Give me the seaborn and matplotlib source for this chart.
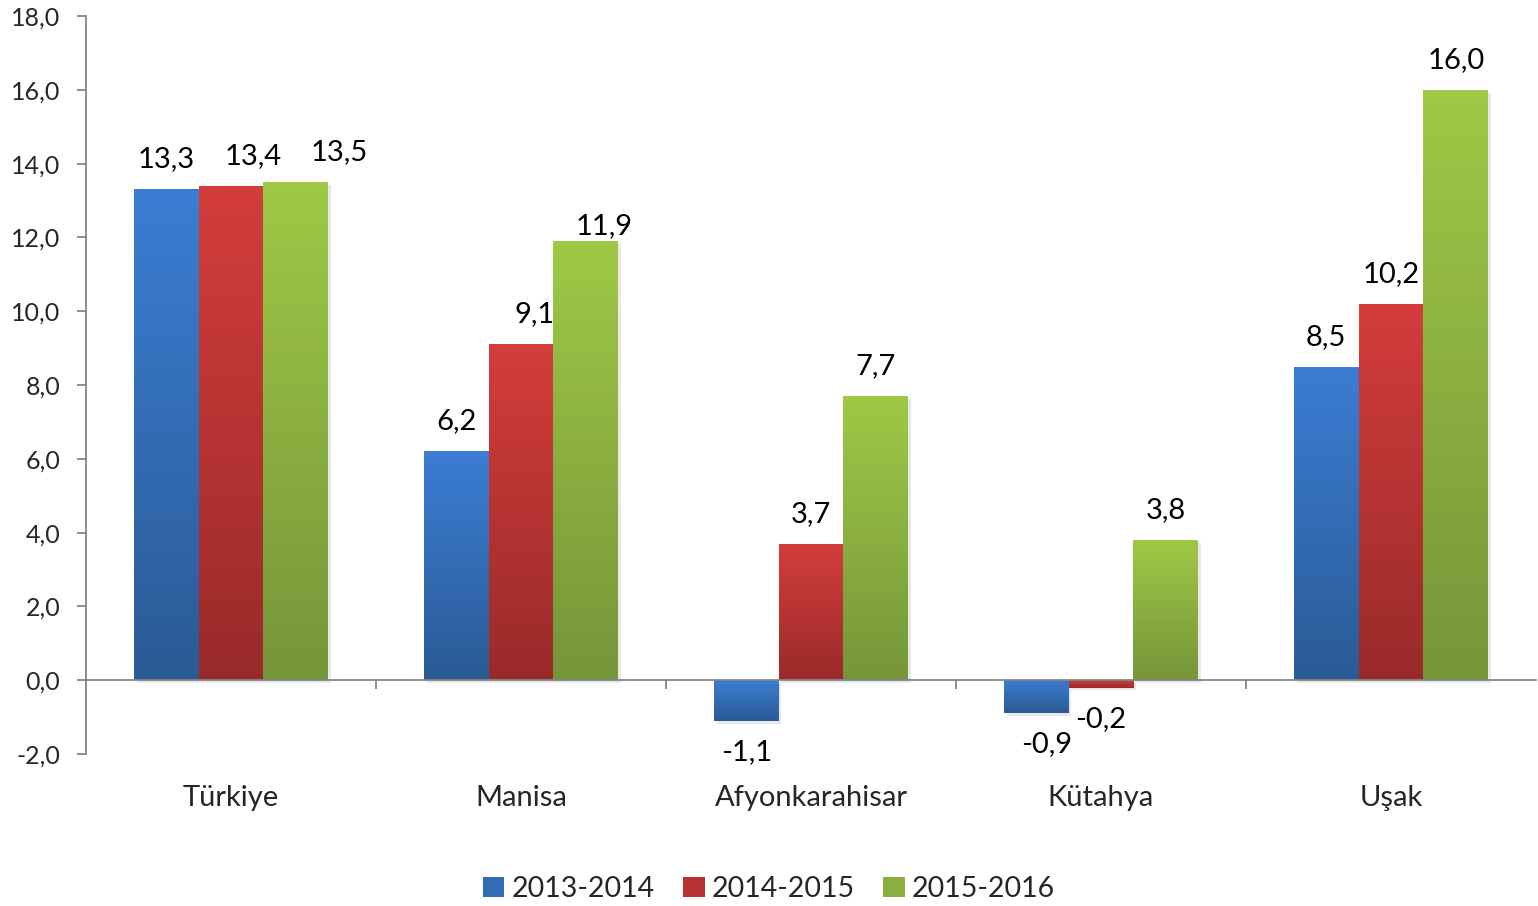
import numpy as np
import pandas as pd
import matplotlib
matplotlib.use("Agg")
import matplotlib.pyplot as plt
import matplotlib.patheffects as pe
from matplotlib.colors import to_rgb
from matplotlib.patches import Patch
import seaborn as sns

# chart data
regions = ["Türkiye", "Manisa", "Afyonkarahisar", "Kütahya", "Uşak"]
periods = ["2013-2014", "2014-2015", "2015-2016"]
v_2013_2014 = [13.3, 6.2, -1.1, -0.9, 8.5]
v_2014_2015 = [13.4, 9.1, 3.7, -0.2, 10.2]
v_2015_2016 = [13.5, 11.9, 7.7, 3.8, 16.0]
y_ticks = [-2, 0, 2, 4, 6, 8, 10, 12, 14, 16, 18]

df = pd.DataFrame({
    "region": regions * 3,
    "period": np.repeat(periods, len(regions)),
    "value": v_2013_2014 + v_2014_2015 + v_2015_2016,
})

# gradient colours (top, bottom) per series
grad = {
    "2013-2014": ("#3b7dd3", "#2b5b96"),
    "2014-2015": ("#d33d3c", "#9a2a2a"),
    "2015-2016": ("#9fc846", "#76963a"),
}
mid = {k: "#%02x%02x%02x" % tuple(int(255 * (a + b) / 2) for a, b in zip(to_rgb(t), to_rgb(bt)))
       for k, (t, bt) in grad.items()}

# manual label nudges (px) where the original moved labels
nudge = {("2014-2015", 0): (22, 0), ("2015-2016", 0): (43, 0),
         ("2014-2015", 1): (14, 0), ("2015-2016", 1): (18, -15),
         ("2013-2014", 3): (10, 0)}

sns.set_style("white")
plt.rcParams["font.family"] = ["Lato", "DejaVu Sans"]

fig = plt.figure(figsize=(15.38, 9.06), dpi=100)
ax = fig.add_axes([86 / 1538, 1 - 754 / 906, 1450 / 1538, 738 / 906])

sns.barplot(data=df, x="region", y="value", hue="period", palette=mid,
            width=0.67, ax=ax, legend=False, errorbar=None, saturation=1)

ax.set_xlim(-0.5, 4.5)
ax.set_ylim(-2, 18)

px = 72 / 100  # points per pixel
for period, cont in zip(periods, ax.containers):
    top, bot = grad[period]
    cmap = matplotlib.colors.LinearSegmentedColormap.from_list("g", [bot, top])
    for i, bar in enumerate(cont):
        x0, w = bar.get_x(), bar.get_width()
        y0, h = bar.get_y(), bar.get_height()
        ylo, yhi = min(y0, y0 + h), max(y0, y0 + h)
        bar.set_facecolor("none")
        bar.set_edgecolor("none")
        bar.set_path_effects([pe.SimplePatchShadow(offset=(2, -2), shadow_rgbFace="#999999", alpha=0.22)])
        img = ax.imshow(np.linspace(1, 0, 64).reshape(-1, 1), cmap=cmap, aspect="auto",
                        extent=[x0, x0 + w, ylo, yhi], origin="upper", zorder=2,
                        interpolation="bilinear")
        img.set_clip_path(bar)
        val = df[(df.period == period) & (df.region == regions[i])].value.iloc[0]
        dx, dy = nudge.get((period, i), (0, 0))
        off = 30 if val >= 0 else -31
        ax.annotate(f"{val:.1f}".replace(".", ","), (x0 + w / 2, val),
                    xytext=((dx) * px, (off + dy) * px), textcoords="offset points",
                    ha="center", va="center", fontsize=21, color="black",
                    annotation_clip=False)

ax.set_xlim(-0.5, 4.5)
ax.set_ylim(-2, 18)

# axes styling
for s in ["top", "right"]:
    ax.spines[s].set_visible(False)
ax.spines["left"].set_color("#868686")
ax.spines["left"].set_linewidth(1.3)
ax.spines["bottom"].set_position(("data", 0))
ax.spines["bottom"].set_color("#868686")
ax.spines["bottom"].set_linewidth(1.3)
ax.spines["bottom"].set_zorder(3)

ax.set_yticks(y_ticks)
ax.set_yticklabels([f"{t:.1f}".replace(".", ",") for t in y_ticks], fontsize=18)
ax.tick_params(axis="y", direction="out", length=6.5, width=1.3, color="#868686", pad=12, left=True)

ax.set_xticks(np.arange(0.5, 4.0, 1.0), minor=True)
ax.set_xticks(range(len(regions)))
ax.set_xticklabels([])
ax.tick_params(axis="x", which="major", length=0)
ax.tick_params(axis="x", which="minor", direction="out", length=6.5, width=1.3, color="#868686", bottom=True)
ax.set_xlabel("")
ax.set_ylabel("")

for i, r in enumerate(regions):
    ax.text(i, -3.18, r, ha="center", va="center", fontsize=21, clip_on=False)

handles = [Patch(facecolor=mid[p], edgecolor="none", label=p) for p in periods]
fig.legend(handles=handles, loc="center", bbox_to_anchor=(0.5, 1 - 889 / 906), ncol=3,
           frameon=False, fontsize=20.5, handlelength=0.75, handleheight=0.75,
           handletextpad=0.25, columnspacing=1.0)

fig.savefig("out.png", dpi=100)
plt.close()
